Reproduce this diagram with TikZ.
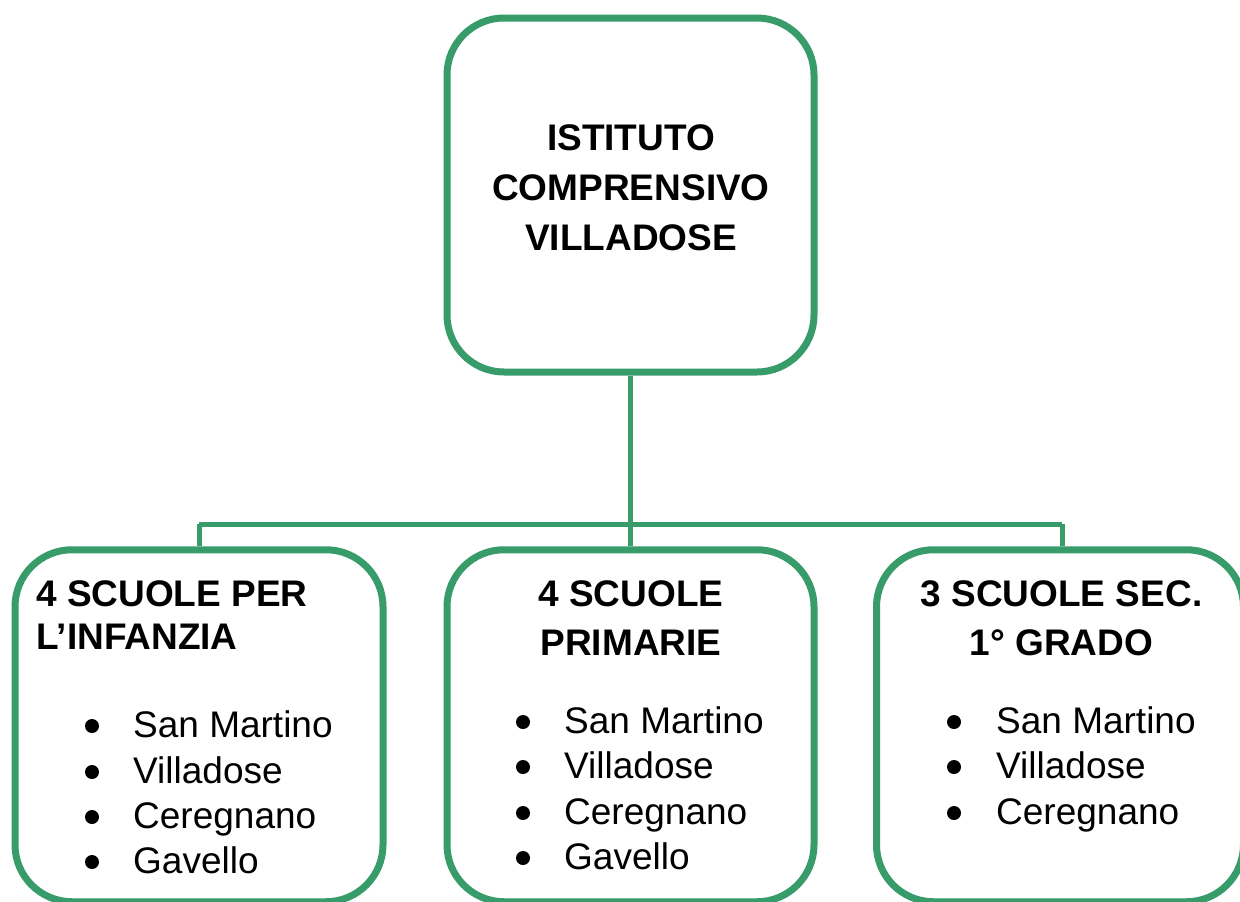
\documentclass[tikz,border=0pt]{standalone}
\usepackage{fontspec}
\setmainfont{Liberation Sans}
\definecolor{boxgreen}{RGB}{56,155,106}
\begin{document}
\begin{tikzpicture}[x=1pt,y=-1pt,
  box/.style={draw=boxgreen, line width=7pt, rounded corners=57pt, rectangle, fill=white, inner sep=0pt},
  conn/.style={draw=boxgreen, line width=5pt},
  txt/.style={inner sep=0pt, font=\fontsize{37}{44}\selectfont},
  head/.style={txt, font=\fontsize{37}{44}\selectfont\bfseries},
  dot/.style={circle, fill=black, inner sep=0pt, minimum size=14pt}]
\useasboundingbox (0,0) rectangle (1240,902);
\clip (0,0) rectangle (1240,902);
% connectors first
\coordinate (busL) at (199,524);
\coordinate (busR) at (1062,524);
\coordinate (busM) at (630.5,524);
% boxes
\node[box, minimum width=367pt, minimum height=354pt] (top) at (630.5,195) {};
\node[box, minimum width=368pt, minimum height=352pt] (left) at (199,725.75) {};
\node[box, minimum width=367pt, minimum height=352pt] (mid) at (630.5,725.75) {};
\node[box, minimum width=367pt, minimum height=352pt] (right) at (1060,725.75) {};
\draw[conn] (top.south) -- (mid.north);
\draw[conn] (busL) -- (busR);
\draw[conn] (busL) -- (left.north);
\draw[conn] (busR) -- (busR |- right.north);
% top text
\node[head, anchor=base] (t1) at (631,150) {ISTITUTO};
\node[head, anchor=base] (t2) at (631,200) {COMPRENSIVO};
\node[head, anchor=base] (t3) at (631,250) {VILLADOSE};
% left
\node[head, anchor=base west] (lh1) at (36,606) {4 SCUOLE PER};
\node[head, anchor=base west] (lh2) at (36,649) {L’INFANZIA};
\foreach \name/\y [count=\i] in {San Martino/737, Villadose/783, Ceregnano/828, Gavello/873}{
  \node[dot] (ld\i) at (92,\y-11) {};
  \node[txt, anchor=base west] (lt\i) at (133,\y) {\name};
}
% middle
\node[head, anchor=base] (mh1) at (631,606) {4 SCUOLE};
\node[head, anchor=base] (mh2) at (631,655) {PRIMARIE};
\foreach \name/\y [count=\i] in {San Martino/733, Villadose/778, Ceregnano/824, Gavello/869}{
  \node[dot] (md\i) at (523,\y-11) {};
  \node[txt, anchor=base west] (mt\i) at (564,\y) {\name};
}
% right
\node[head, anchor=base] (rh1) at (1061.5,606) {3 SCUOLE SEC.};
\node[head, anchor=base] (rh2) at (1061.5,655) {1° GRADO};
\foreach \name/\y [count=\i] in {San Martino/733, Villadose/778, Ceregnano/824}{
  \node[dot] (rd\i) at (954,\y-11) {};
  \node[txt, anchor=base west] (rt\i) at (996,\y) {\name};
}
\end{tikzpicture}
\end{document}
